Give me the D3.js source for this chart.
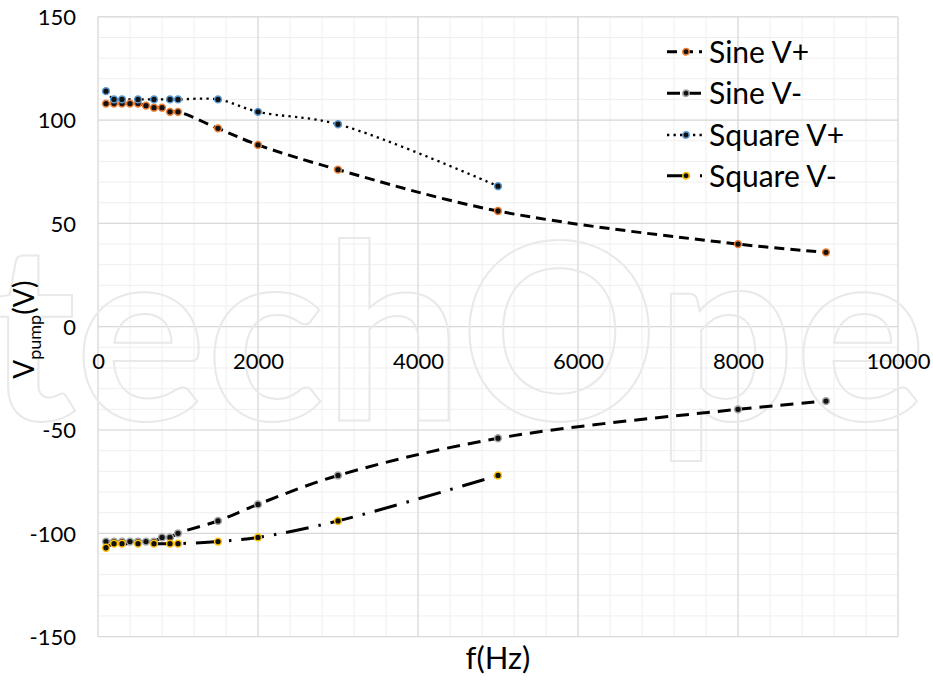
<!DOCTYPE html>
<html>
<head>
<meta charset="utf-8">
<script src="https://cdn.jsdelivr.net/npm/d3@7/dist/d3.min.js"></script>
<style>
  html, body { margin: 0; padding: 0; background: #fff; }
  svg { display: block; }
  text { font-family: Lato, "Open Sans", sans-serif; fill: #000; }
</style>
</head>
<body>
<svg id="chart" width="933" height="681"></svg>
<script>
// Pump voltage vs. drive frequency for sine and square excitation
const freqSine    = [100, 200, 300, 400, 500, 600, 700, 800, 900, 1000, 1500, 2000, 3000, 5000, 8000, 9100];
const sineVplus   = [108, 108, 108, 108, 108, 107, 106, 106, 104, 104, 96, 88, 76, 56, 40, 36];
const sineVminus  = [-104, -104, -104, -104, -104, -104, -104, -102, -102, -100, -94, -86, -72, -54, -40, -36];

const freqSquare   = [100, 200, 300, 500, 700, 900, 1000, 1500, 2000, 3000, 5000];
const squareVplus  = [114, 110, 110, 110, 110, 110, 110, 110, 104, 98, 68];
const squareVminus = [-107, -105, -105, -105, -105, -105, -105, -104, -102, -94, -72];

const seriesNames = ["Sine V+", "Sine V-", "Square V+", "Square V-"];

const xTickValues = [0, 2000, 4000, 6000, 8000, 10000];
const yTickValues = [-150, -100, -50, 0, 50, 100, 150];

const svg = d3.select("#chart");

const plot = { left: 98, right: 898, top: 16.8, bottom: 636.6 };

const x = d3.scaleLinear().domain([0, 10000]).range([plot.left, plot.right]);
const y = d3.scaleLinear().domain([-150, 150]).range([plot.bottom, plot.top]);

// Minor and major gridlines
const gGrid = svg.append("g");
gGrid.selectAll(".vminor").data(d3.range(0, 10001, 400))
  .join("line")
  .attr("x1", d => x(d)).attr("x2", d => x(d))
  .attr("y1", plot.top).attr("y2", plot.bottom)
  .attr("stroke", "#efefef").attr("stroke-width", 1);
gGrid.selectAll(".hminor").data(d3.range(-150, 151, 10))
  .join("line")
  .attr("y1", d => y(d)).attr("y2", d => y(d))
  .attr("x1", plot.left).attr("x2", plot.right)
  .attr("stroke", "#efefef").attr("stroke-width", 1);
gGrid.selectAll(".vmajor").data(xTickValues)
  .join("line")
  .attr("x1", d => x(d)).attr("x2", d => x(d))
  .attr("y1", plot.top).attr("y2", plot.bottom)
  .attr("stroke", "#d9d9d9").attr("stroke-width", 1.2);
gGrid.selectAll(".hmajor").data(yTickValues)
  .join("line")
  .attr("y1", d => y(d)).attr("y2", d => y(d))
  .attr("x1", plot.left).attr("x2", plot.right)
  .attr("stroke", "#d9d9d9").attr("stroke-width", 1.2);

// Publisher mark, outlined letters across the middle
svg.append("text")
  .attr("x", -222).attr("y", 420)
  .style("font-size", "245px")
  .style("font-weight", "700")
  .style("fill", "none")
  .attr("stroke", "#e9e9e9").attr("stroke-width", 2)
  .text("IntechOpen");

// Axes (labels only, crossing at zero)
const plainFormat = d => String(d);
const xAxis = d3.axisBottom(x).tickValues(xTickValues).tickSize(0).tickPadding(0).tickFormat(plainFormat);
const yAxis = d3.axisLeft(y).tickValues(yTickValues).tickSize(0).tickPadding(0).tickFormat(plainFormat);

const gx = svg.append("g").attr("transform", `translate(0,${y(0)})`).call(xAxis);
gx.select(".domain").remove();
gx.selectAll("text").attr("dy", null).attr("y", 42).style("font-size", "22px").style("font-family", null);

const gy = svg.append("g").attr("transform", `translate(76,0)`).call(yAxis);
gy.select(".domain").remove();
gy.selectAll("text").attr("x", 0).attr("dy", "0.35em").style("font-size", "22px").style("font-family", null);

// Series
const series = [
  { name: seriesNames[0], xs: freqSine,   ys: sineVplus,    marker: "#ED7D31", dash: "10,6",         width: 3 },
  { name: seriesNames[1], xs: freqSine,   ys: sineVminus,   marker: "#A5A5A5", dash: "13,8",         width: 3 },
  { name: seriesNames[2], xs: freqSquare, ys: squareVplus,  marker: "#5B9BD5", dash: "2.3,4.2",      width: 2.3 },
  { name: seriesNames[3], xs: freqSquare, ys: squareVminus, marker: "#FFC000", dash: "23,10,2.5,10", width: 3 }
];

const line = d3.line()
  .x(d => x(d[0]))
  .y(d => y(d[1]))
  .curve(d3.curveCatmullRom.alpha(0.5));

series.forEach(s => {
  const pts = s.xs.map((f, i) => [f, s.ys[i]]);
  svg.append("path")
    .datum(pts)
    .attr("d", line)
    .attr("fill", "none")
    .attr("stroke", "#000")
    .attr("stroke-width", s.width)
    .attr("stroke-dasharray", s.dash);
});

series.forEach(s => {
  const pts = s.xs.map((f, i) => [f, s.ys[i]]);
  svg.append("g").selectAll("circle").data(pts)
    .join("circle")
    .attr("cx", d => x(d[0])).attr("cy", d => y(d[1]))
    .attr("r", 3.4)
    .attr("fill", "#111")
    .attr("stroke", s.marker).attr("stroke-width", 1.5);
});

// Legend
const legend = svg.append("g").attr("transform", "translate(667,0)");
const rowY = [51.7, 93.3, 135, 175.7];
series.forEach((s, i) => {
  const g = legend.append("g").attr("transform", `translate(0,${rowY[i]})`);
  g.append("line")
    .attr("x1", 0).attr("x2", 35).attr("y1", 0).attr("y2", 0)
    .attr("stroke", "#000").attr("stroke-width", s.width)
    .attr("stroke-dasharray", s.dash);
  g.append("circle")
    .attr("cx", 19).attr("cy", 0).attr("r", 3.2)
    .attr("fill", "#111").attr("stroke", s.marker).attr("stroke-width", 1.5);
  g.append("text")
    .attr("x", 42).attr("y", 0).attr("dy", "0.36em")
    .style("font-size", "30px")
    .text(s.name);
});

// Axis titles
svg.append("text")
  .attr("x", x(5000)).attr("y", 669)
  .attr("text-anchor", "middle")
  .style("font-size", "31px")
  .text("f(Hz)");

const yTitle = svg.append("text")
  .attr("transform", `translate(34,${(plot.top + plot.bottom) / 2 + 3}) rotate(-90)`)
  .attr("text-anchor", "middle")
  .style("font-size", "28px");
yTitle.append("tspan").text("V");
yTitle.append("tspan").attr("dy", 7).style("font-size", "18px").text("pump");
yTitle.append("tspan").attr("dy", -7).text("(V)");
</script>
</body>
</html>
